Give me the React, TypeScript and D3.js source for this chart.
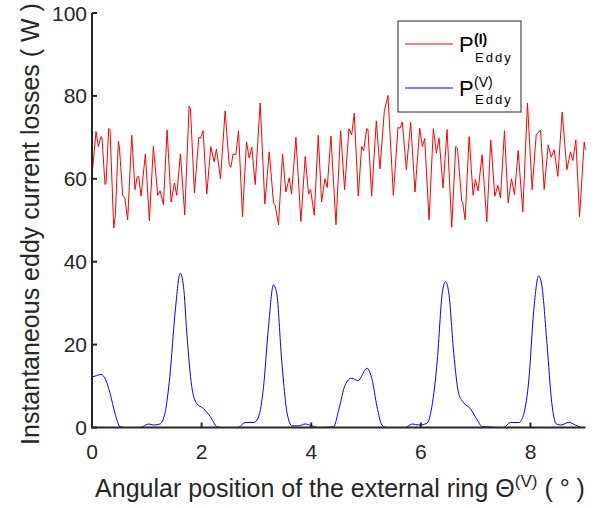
import React from "react";
import * as d3 from "d3";

const redX = [0,0.073,0.116,0.164,0.183,0.237,0.256,0.304,0.329,0.396,0.426,0.481,0.499,0.56,0.597,0.651,0.725,0.785,0.822,0.852,0.895,0.974,1.047,1.12,1.199,1.242,1.303,1.37,1.443,1.504,1.546,1.613,1.692,1.771,1.796,1.869,1.948,1.979,2.027,2.094,2.167,2.228,
2.271,2.344,2.429,2.502,2.533,2.575,2.624,2.673,2.746,2.819,2.868,2.916,2.977,3.068,3.154,3.233,3.312,3.342,3.403,3.476,3.537,3.598,3.641,3.72,3.811,3.89,3.951,3.988,4.055,4.128,4.189,4.25,4.292,4.359,4.451,
4.536,4.609,4.688,4.737,4.785,4.858,4.919,4.956,5.011,5.035,5.102,5.187,5.254,5.333,5.4,5.498,5.583,5.62,5.662,5.735,5.814,5.893,5.979,6.027,6.07,6.149,6.228,6.283,6.332,6.405,6.478,6.563,6.636,6.667,6.746,
6.764,6.807,6.88,6.953,6.995,7.044,7.117,7.203,7.275,7.349,7.404,7.452,7.525,7.592,7.653,7.708,7.775,7.86,7.945,8.03,8.104,8.183,8.25,8.323,8.378,8.432,8.499,8.578,8.664,8.731,8.773,8.828,8.895,8.98,9.0];
const redY = [60.6,71.4,67.8,70.2,69.8,58.6,59.0,72.1,71.9,48.1,51.3,69.0,67.8,56.0,55.5,50.1,70.5,57.4,60.4,60.6,55.8,66.0,49.9,67.8,56.0,57.1,53.8,71.8,54.4,59.0,56.0,66.0,51.3,77.5,76.9,56.6,70.0,69.8,71.6,56.3,67.8,64.1,
67.2,60.0,76.4,63.4,62.8,66.0,65.8,71.6,50.9,68.9,65.0,67.6,58.6,78.3,53.9,66.5,54.2,53.6,48.9,66.0,56.8,60.2,56.3,70.0,49.7,65.4,56.3,57.4,51.2,70.5,54.4,60.0,57.9,70.3,48.9,
71.6,57.4,72.1,70.6,75.8,55.8,67.8,66.8,72.1,71.9,55.8,74.0,62.4,76.3,80.1,56.0,72.4,72.2,73.7,62.2,73.6,56.8,72.2,67.8,69.7,50.1,72.1,66.2,69.8,57.8,71.9,48.3,67.8,67.4,54.6,
54.2,50.1,70.2,56.0,59.8,57.1,65.8,49.6,69.4,55.8,58.4,55.4,71.6,54.2,60.0,56.2,66.8,52.0,78.3,57.4,70.6,71.8,57.4,68.2,65.2,67.0,60.6,76.1,62.2,66.5,64.4,69.4,50.9,68.9,67.0];

const blueX = [0,0.08,0.164,0.25,0.33,0.42,0.51,0.6,0.88,1.03,1.12,1.24,1.33,1.42,1.52,1.61,1.67,1.73,1.82,1.91,2.03,2.16,2.28,2.37,2.67,2.79,2.95,3.04,3.13,3.22,3.31,3.37,3.46,3.56,3.65,3.77,3.89,4.01,4.13,4.41,4.5,4.62,4.74,4.85,5.02,5.11,5.2,5.29,5.38,5.72,5.84,5.96,6.11,6.2,6.3,6.39,6.45,6.51,6.6,6.69,6.78,6.9,7.03,7.12,7.51,7.63,7.79,7.88,7.97,8.06,8.15,8.21,8.3,8.39,8.47,8.56,8.7,8.82,8.94,9.0];
const blueY = [12.2,12.5,12.8,11.5,8.2,3.4,0.2,0,0,0.85,0.6,0.85,3.4,12.3,28.3,37.2,34.0,22.7,9.9,5.8,4.6,2.6,0.2,0,0,1.2,1.2,2.6,9.9,24.3,34.4,32.4,16.3,3.4,0.4,0.4,0.85,0.4,0,0.2,4.2,10.3,11.9,11.3,14.3,11.5,5.0,0.6,0,0,0.85,0.6,1.0,5.0,16.3,32.4,35.2,32.4,17.9,8.2,6.0,4.6,1.8,0.2,0,1.2,1.2,3.4,11.5,28.3,36.6,34.0,20.3,5.8,0.85,0.6,1.25,0.6,0,0];

const xTicks = [0, 2, 4, 6, 8];
const yTicks = [0, 20, 40, 60, 80, 100];

const FONT = "'Liberation Sans', Arial, Helvetica, sans-serif";
const AX = "#262626";

export default function App() {
  const x = d3.scaleLinear().domain([0, 9]).range([92, 585.3]);
  const y = d3.scaleLinear().domain([0, 100]).range([427.5, 13]);

  const red = redX.map((v, i) => [v, redY[i]] as [number, number]);
  const blue = blueX.map((v, i) => [v, blueY[i]] as [number, number]);

  const redLine = d3.line<[number, number]>().x(d => x(d[0])).y(d => y(d[1]));
  const blueLine = d3
    .line<[number, number]>()
    .x(d => x(d[0]))
    .y(d => y(d[1]))
    .curve(d3.curveMonotoneX);

  const [x0, x1] = x.range();
  const [y0, y1] = y.range();

  return (
    <svg
      width={594}
      height={508}
      style={{ position: "absolute", left: 0, top: 0, background: "#fff" }}
      fontFamily={FONT}
    >
      <rect x={0} y={0} width={594} height={508} fill="#fff" />
      <path d={redLine(red) || ""} fill="none" stroke="#ff0000" strokeWidth={1} />
      <path d={blueLine(blue) || ""} fill="none" stroke="#0000ff" strokeWidth={1} />

      {/* axes */}
      <line x1={x0} x2={x1} y1={y0} y2={y0} stroke={AX} strokeWidth={2} />
      <line x1={x0} x2={x0} y1={y0 + 1} y2={y1} stroke={AX} strokeWidth={2} />
      {xTicks.map(t => (
        <g key={"xt" + t}>
          <line x1={x(t)} x2={x(t)} y1={y0} y2={y0 - 5} stroke={AX} strokeWidth={2} />
          <text x={x(t)} y={459} textAnchor="middle" fontSize={21} fill={AX}>
            {t}
          </text>
        </g>
      ))}
      {yTicks.map(t => (
        <g key={"yt" + t}>
          <line x1={x0} x2={x0 + 5} y1={y(t)} y2={y(t)} stroke={AX} strokeWidth={2} />
          <text x={87} y={y(t) + 7.5} textAnchor="end" fontSize={21} fill={AX}>
            {t}
          </text>
        </g>
      ))}

      {/* axis labels */}
      <text
        transform={`translate(39,224) rotate(-90)`}
        textAnchor="middle"
        fontSize={25}
        fill={AX}
      >
        Instantaneous eddy current losses ( W )
      </text>
      <text x={340} y={497} textAnchor="middle" fontSize={25} fill={AX}>
        Angular position of the external ring Θ
        <tspan fontSize={17} dy={-10}>(V)</tspan>
        <tspan dy={10}> ( ° )</tspan>
      </text>

      {/* legend */}
      <rect x={398} y={21} width={123} height={91} fill="#fff" stroke={AX} strokeWidth={1} />
      <line x1={405} x2={453} y1={44} y2={44} stroke="#ff0000" strokeWidth={1} />
      <line x1={405} x2={453} y1={88} y2={88} stroke="#0000ff" strokeWidth={1} />
      <text x={459} y={52} fontSize={22} fill="#000">P</text>
      <text x={474} y={44} fontSize={14} fill="#000" fontWeight="bold">(I)</text>
      <text x={475} y={62} fontSize={13} fill="#000" letterSpacing={2}>Eddy</text>
      <text x={459} y={96} fontSize={22} fill="#000">P</text>
      <text x={474} y={87} fontSize={14} fill="#000">(V)</text>
      <text x={475} y={104} fontSize={13} fill="#000" letterSpacing={2}>Eddy</text>
    </svg>
  );
}
